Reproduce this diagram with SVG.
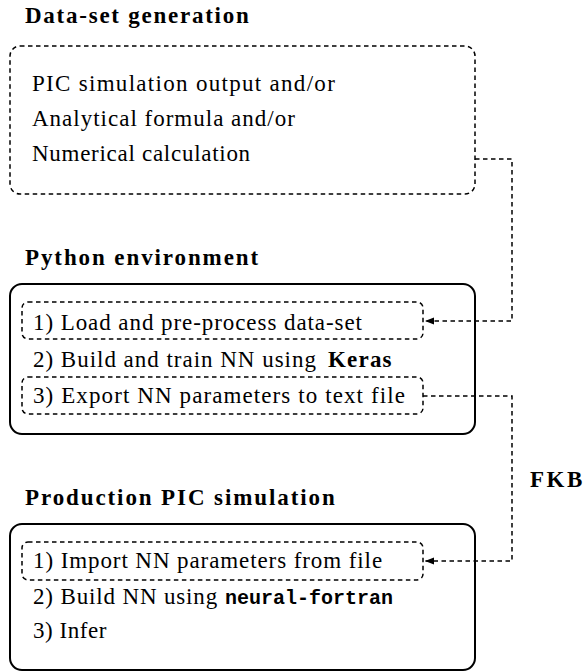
<svg xmlns="http://www.w3.org/2000/svg" width="586" height="672" viewBox="0 0 586 672">
<style>
.dash{fill:none;stroke:#000;stroke-width:1.5;stroke-dasharray:4.5 3.5}
.solid{fill:none;stroke:#000;stroke-width:2}
.conn{fill:none;stroke:#000;stroke-width:1.5;stroke-dasharray:4.5 3.5}
</style>
<defs>
<marker id="arr" markerUnits="userSpaceOnUse" markerWidth="10" markerHeight="10" viewBox="0 0 10 10" refX="9" refY="5" orient="auto">
<path d="M0,1.5 L9,5 L0,8.5 Z" fill="#000"/>
</marker>
</defs>
<rect width="586" height="672" fill="#fff"/>
<g id="dataset">
<text font-family="Liberation Serif" font-size="23" font-weight="bold" letter-spacing="1.75" x="25" y="23">Data-set generation</text>
<rect class="dash" x="10" y="46" width="465" height="148" rx="10"/>
<text font-family="Liberation Serif" font-size="23" letter-spacing="1.3" x="32" y="91">PIC simulation output and/or</text>
<text font-family="Liberation Serif" font-size="23" letter-spacing="1.0" x="32" y="126">Analytical formula and/or</text>
<text font-family="Liberation Serif" font-size="23" letter-spacing="0.72" x="32" y="161">Numerical calculation</text>
</g>
<g id="python">
<text font-family="Liberation Serif" font-size="23" font-weight="bold" letter-spacing="1.9" x="25" y="265">Python environment</text>
<rect class="solid" x="10" y="284" width="465" height="150" rx="12"/>
<rect class="dash" x="22" y="302" width="401" height="37" rx="6"/>
<text font-family="Liberation Serif" font-size="23" letter-spacing="0.93" x="33" y="330">1) Load and pre-process data-set</text>
<text font-family="Liberation Serif" font-size="23" letter-spacing="0.98" x="33" y="367">2) Build and train NN using</text>
<text font-family="Liberation Serif" font-size="23" font-weight="bold" letter-spacing="1.2" x="328" y="367">Keras</text>
<rect class="dash" x="22" y="377" width="401" height="37" rx="6"/>
<text font-family="Liberation Serif" font-size="23" letter-spacing="1.1" x="33" y="403">3) Export NN parameters to text file</text>
</g>
<g id="production">
<text font-family="Liberation Serif" font-size="23" font-weight="bold" letter-spacing="1.9" x="25" y="505">Production PIC simulation</text>
<rect class="solid" x="10" y="524" width="465" height="146" rx="12"/>
<rect class="dash" x="22" y="542" width="401" height="38" rx="6"/>
<text font-family="Liberation Serif" font-size="23" letter-spacing="0.91" x="33" y="568">1) Import NN parameters from file</text>
<text font-family="Liberation Serif" font-size="23" letter-spacing="0.85" x="33" y="604">2) Build NN using</text>
<text font-family="Liberation Mono" font-size="20" font-weight="bold" x="225" y="604">neural-fortran</text>
<text font-family="Liberation Serif" font-size="23" letter-spacing="0.55" x="33" y="638">3) Infer</text>
</g>
<g id="connectors">
<path class="conn" d="M475,159 H512 V321 H425" marker-end="url(#arr)"/>
<path class="conn" d="M423,396 H512 V561 H425" marker-end="url(#arr)"/>
<text font-family="Liberation Serif" font-size="23" font-weight="bold" letter-spacing="2.5" x="530" y="487">FKB</text>
</g>
</svg>
